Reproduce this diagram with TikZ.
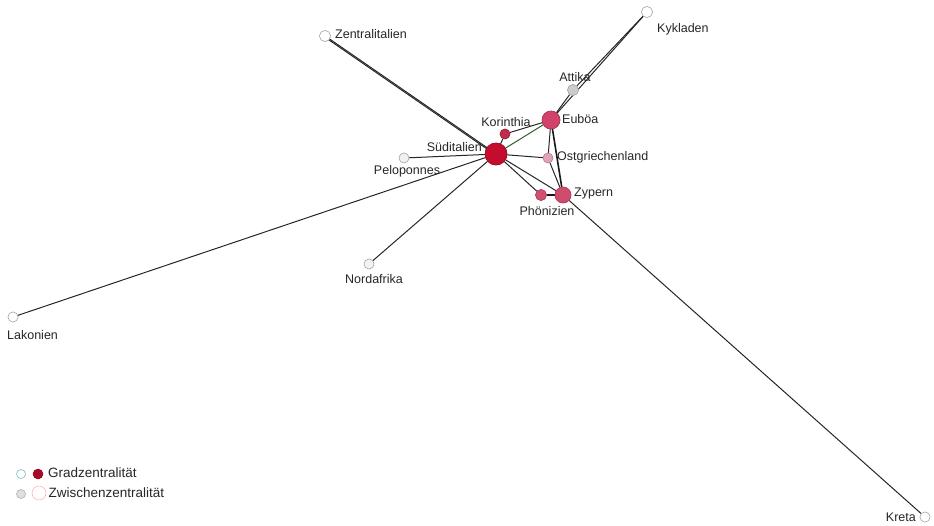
\documentclass[tikz,border=0pt]{standalone}
\usepackage{fontspec}
\setmainfont{Liberation Sans}
\begin{document}
\begin{tikzpicture}[x=1pt,y=-1pt,
  nd/.style={circle,draw=gray!70,line width=0.5pt,inner sep=0pt,minimum size=#1},
  nd/.default=10,
  lab/.style={font=\fontsize{12.5}{14}\selectfont,text=black!85,inner sep=1pt},
  leg/.style={font=\fontsize{13.5}{15}\selectfont,text=black!85,inner sep=1pt},
  ed/.style={draw=black!85,line width=1pt},
  thick ed/.style={draw=black!90,line width=1.6pt}]
\useasboundingbox (0,0) rectangle (934,525);
\definecolor{sred}{HTML}{C40C2E}
\definecolor{ered}{HTML}{D2436A}
\definecolor{kred}{HTML}{BE2E4C}
\definecolor{opink}{HTML}{E2A2BA}
\definecolor{zred}{HTML}{D04C6C}
\definecolor{pred}{HTML}{D2506E}
\definecolor{egreen}{HTML}{2E5E2A}
% nodes
\node[nd=22,fill=sred,draw=sred!80!black] (sud) at (496,154) {};
\node[nd=18,fill=ered,draw=ered!80!black] (eub) at (551,120) {};
\node[nd=10,fill=kred,draw=kred!80!black] (kor) at (505,134) {};
\node[nd=10,fill=opink,draw=opink!80!black] (ost) at (548,158) {};
\node[nd=16,fill=zred,draw=zred!80!black] (zyp) at (563,195) {};
\node[nd=11,fill=pred,draw=pred!80!black] (pho) at (541,195) {};
\node[nd=11,fill=gray!40] (att) at (573,90) {};
\node[nd=11,fill=white] (kyk) at (647,12) {};
\node[nd=11,fill=white] (zen) at (325,36) {};
\node[nd=10,fill=gray!12] (pel) at (404,158) {};
\node[nd=10,fill=gray!10] (nor) at (369,264) {};
\node[nd=10,fill=white] (lak) at (13,317) {};
\node[nd=10,fill=white] (kre) at (925,517) {};
% edges
\draw[ed] ([yshift=-1.2pt]zen.center) -- ([yshift=-1.2pt]sud.center);
\draw[ed] ([xshift=-1.5pt,yshift=1.2pt]zen.center) -- ([xshift=-1.5pt,yshift=1.2pt]sud.center);
\draw[ed] (sud) -- (pel);
\draw[ed] (sud) -- (lak);
\draw[ed] (sud) -- (nor);
\draw[ed] (sud) -- (kor);
\draw[ed,draw=egreen] (sud) -- (eub);
\draw[ed] (sud) -- (ost);
\draw[ed] (sud) -- (zyp);
\draw[ed] (sud) -- (pho);
\draw[ed] (kor) -- (eub);
\draw[ed] (eub) -- (att);
\draw[ed] (eub) -- (kyk);
\draw[ed] (att) -- (kyk);
\draw[ed] (eub) -- (ost);
\draw[thick ed] (eub) -- (zyp);
\draw[ed] (ost) -- (zyp);
\draw[thick ed] (pho) -- (zyp);
\draw[ed] (zyp) -- (kre);
% redraw nodes on top
\node[nd=22,fill=sred,draw=sred!80!black] at (496,154) {};
\node[nd=18,fill=ered,draw=ered!80!black] at (551,120) {};
\node[nd=10,fill=kred,draw=kred!80!black] at (505,134) {};
\node[nd=10,fill=opink,draw=opink!80!black] at (548,158) {};
\node[nd=16,fill=zred,draw=zred!80!black] at (563,195) {};
\node[nd=11,fill=pred,draw=pred!80!black] at (541,195) {};
\node[nd=11,fill=gray!40] at (573,90) {};
\node[nd=11,fill=white] at (647,12) {};
\node[nd=11,fill=white] at (325,36) {};
\node[nd=10,fill=gray!12] at (404,158) {};
\node[nd=10,fill=gray!10] at (369,264) {};
\node[nd=10,fill=white] at (13,317) {};
\node[nd=10,fill=white] at (925,517) {};
% labels
\node[lab,anchor=west] (lzen) at (334,34) {Zentralitalien};
\node[lab,anchor=west] (lkyk) at (656,29) {Kykladen};
\node[lab] (latt) at (575,77) {Attika};
\node[lab,anchor=west] (leub) at (561,119) {Euböa};
\node[lab] (lkor) at (506,122) {Korinthia};
\node[lab,anchor=east] (lsud) at (483,147) {Süditalien};
\node[lab] (lpel) at (407,171) {Peloponnes};
\node[lab,anchor=west] (lost) at (556,157) {Ostgriechenland};
\node[lab,anchor=west] (lzyp) at (573,193) {Zypern};
\node[lab] (lpho) at (547,211) {Phönizien};
\node[lab] (lnor) at (374,279) {Nordafrika};
\node[lab,anchor=west] (llak) at (6,335) {Lakonien};
\node[lab,anchor=east] (lkre) at (917,517) {Kreta};
% legend
\node[nd=9,fill=white,draw=teal!60] (lg1) at (21,474) {};
\node[nd=10,fill=sred!85!black,draw=sred!70!black] (lg2) at (38,474) {};
\node[leg,anchor=west] (lgt1) at (47,473) {Gradzentralität};
\node[nd=9,fill=gray!25,draw=gray!70] (lg3) at (21,494) {};
\node[nd=14,fill=white,draw=pink!90!red] (lg4) at (39,493) {};
\node[leg,anchor=west] (lgt2) at (47.5,493) {Zwischenzentralität};
\end{tikzpicture}
\end{document}
